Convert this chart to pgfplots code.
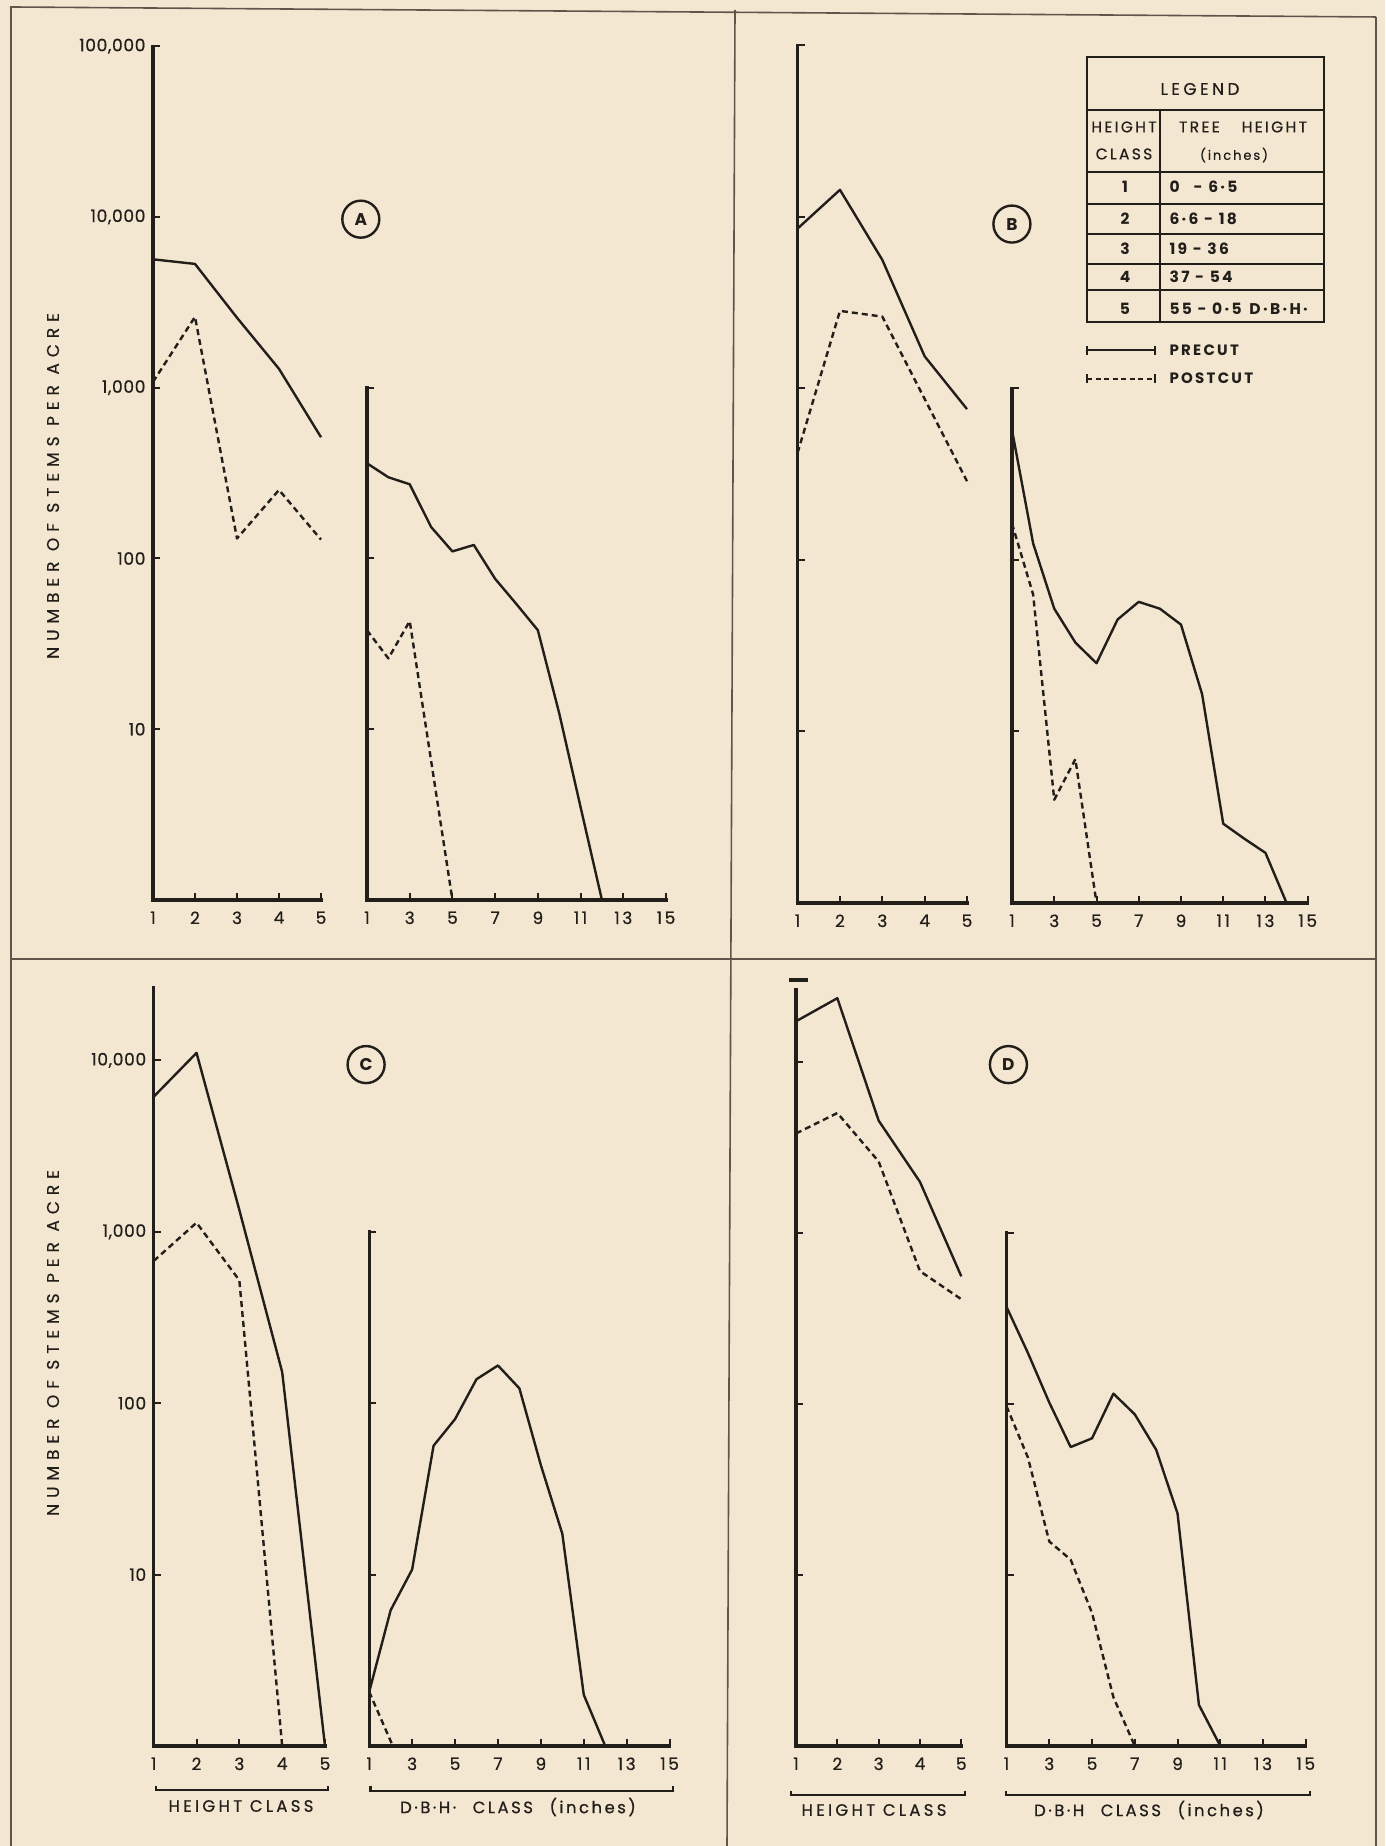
\documentclass[border=0pt]{standalone}
\usepackage{pgfplots}
\pgfplotsset{compat=1.18}
\usepackage{fontspec}
\setmainfont{Poppins}[LetterSpace=15]
\definecolor{paper}{RGB}{244,231,209}
\definecolor{ink}{RGB}{34,30,26}
\definecolor{framec}{RGB}{95,85,75}
\newcommand{\fs}[1]{\fontsize{#1}{#1}\selectfont}
\newcommand{\fb}{\addfontfeatures{FakeBold=0.6}}

\pgfplotsset{
 stemaxis/.style={scale only axis, anchor=south west,
   axis x line=bottom, axis y line=left,
   axis line style={-, line width=3.2pt, ink, line cap=rect},
   ymin=1, xmin=1,
   tick align=inside, major tick length=7pt,
   major tick style={line width=2pt, ink},
   yminorticks=false, xminorticks=false,
   clip=false,
   x tick label style={font=\fs{17}\fb, text=ink, yshift=-8pt},
   y tick label style={font=\fs{17}\addfontfeatures{LetterSpace=4,FakeBold=0.6}, text=ink, xshift=-4pt},
 },
 hcls/.style={xmax=5, xtick={1,2,3,4,5}, xticklabels={1,2,3,4,5}},
 dcls/.style={xmax=15, ymax=1000, xtick={1,3,5,7,9,11,13,15},
   xticklabels={1,3,5,7,9,11,13,15}, ytick={10,100,1000}, yticklabels={}},
 precut/.style={solid, line width=2.4pt, ink, line join=round, mark=none},
 postcut/.style={dash pattern=on 6pt off 4pt, line width=2.4pt, ink, line join=round, mark=none},
}

\begin{document}
\begin{tikzpicture}[x=1pt,y=1pt]
\fill[paper] (0,0) rectangle (1385,1846);
\useasboundingbox (0,0) rectangle (1385,1846);

% frame
\draw[line width=1.6pt, framec] (10,1839) -- (1376,1829);
\draw[line width=1.6pt, framec] (11,1839) -- (11,0);
\draw[line width=1.6pt, framec] (1376,1829) -- (1376,0);
\draw[line width=1.6pt, framec] (735,1836) -- (727,0);
\draw[line width=1.6pt, framec] (11,887) -- (1376,887);

% ---------------- Panel A ----------------
\begin{axis}[ymode=log, stemaxis, hcls, at={(153pt,946pt)}, width=168pt, height=853.75pt,
  ymax=100000, ytick={10,100,1000,10000,100000},
  yticklabels={10,100,{1,000},{10,000},{100,000}}]
\addplot[precut] coordinates {(1,5650)(2,5310)(3,2570)(4,1290)(5,513)};
\addplot[postcut] coordinates {(1,1081)(2,2600)(3,131)(4,252)(5,129)};
\end{axis}
\begin{axis}[ymode=log, stemaxis, dcls, at={(367pt,946pt)}, width=299pt, height=512.25pt]
\addplot[precut] coordinates {(1,361)(2,299)(3,272)(4,153)(5,110)(6,120)(7,76)(8,54)(9,38)(10,12.4)(11,3.5)(12,1)};
\addplot[postcut] coordinates {(1,38)(2,26)(3,43)(5,1)};
\end{axis}

% ---------------- Panel B ----------------
\begin{axis}[ymode=log, stemaxis, hcls, at={(797.6pt,943pt)}, width=169.4pt, height=857.5pt,
  ymax=100000, ytick={10,100,1000,10000,100000}, yticklabels={}]
\addplot[precut] coordinates {(1,8560)(2,14400)(3,5620)(4,1540)(5,758)};
\addplot[postcut] coordinates {(1,422)(2,2834)(3,2625)(4,869)(5,288)};
\end{axis}
\begin{axis}[ymode=log, stemaxis, dcls, at={(1012pt,943pt)}, width=295.7pt, height=514.5pt]
\addplot[precut] coordinates {(1,572)(2,125)(3,52)(4,33)(5,25)(6,45)(7,57)(8,52)(9,42)(10,16.5)(11,2.9)(12,2.37)(13,1.96)(14,1)};
\addplot[postcut] coordinates {(1,163)(2,63)(3,4.0)(4,6.9)(5,1)};
\end{axis}

% ---------------- Panel C ----------------
\begin{axis}[ymode=log, stemaxis, hcls, at={(153.7pt,100pt)}, width=171.3pt, height=758pt,
  ymax=26450, ytick={10,100,1000,10000},
  yticklabels={10,100,{1,000},{10,000}}]
\addplot[precut] coordinates {(1,6140)(2,11060)(3,1340)(4,152)(5,1)};
\addplot[postcut] coordinates {(1,676)(2,1130)(3,521)(4,1)};
\end{axis}
\begin{axis}[ymode=log, stemaxis, dcls, at={(369.2pt,100pt)}, width=300.4pt, height=514.2pt]
\addplot[precut] coordinates {(1,2.07)(2,6.2)(3,10.7)(4,56.5)(5,80.7)(6,138)(7,166)(8,122)(9,43.5)(10,17.3)(11,1.99)(12,1)};
\addplot[postcut] coordinates {(1,2.07)(2.1,1)};
\end{axis}

% ---------------- Panel D ----------------
\begin{axis}[ymode=log, stemaxis, hcls, at={(796pt,100pt)}, width=165.3pt, height=756.4pt,
  ymax=26510, ytick={10,100,1000,10000}, yticklabels={}]
\addplot[precut] coordinates {(1,17300)(2,23600)(3,4540)(4,1990)(5,558)};
\addplot[postcut] coordinates {(1,3820)(2,5030)(3,2620)(4,598)(5,410)};
\end{axis}
\begin{axis}[ymode=log, stemaxis, dcls, at={(1006.5pt,100pt)}, width=299.3pt, height=513pt]
\addplot[precut] coordinates {(1,370)(2,199)(3,102)(4,56)(5,63)(6,115)(7,87)(8,54)(9,22.9)(10,1.74)(11,1)};
\addplot[postcut] coordinates {(1,97)(2,48.7)(3,15.7)(4,12.3)(5,6.0)(6,1.93)(7,1)};
\end{axis}
\draw[line width=4pt, ink] (789,866) -- (808,866);

% y labels
\node[rotate=90, font=\fs{17}\addfontfeatures{LetterSpace=35,FakeBold=0.5}, text=ink] at (53,1360) {NUMBER OF STEMS PER ACRE};
\node[rotate=90, font=\fs{17}\addfontfeatures{LetterSpace=35,FakeBold=0.5}, text=ink] at (53,503) {NUMBER OF STEMS PER ACRE};

% circled panel letters
\node[circle, draw=ink, line width=2.4pt, minimum size=37pt, inner sep=0pt, font=\fs{17}\bfseries\addfontfeatures{LetterSpace=0}, text=ink] at (360.8,1626.8) {A};
\node[circle, draw=ink, line width=2.4pt, minimum size=37pt, inner sep=0pt, font=\fs{17}\bfseries\addfontfeatures{LetterSpace=0}, text=ink] at (1011.9,1621.9) {B};
\node[circle, draw=ink, line width=2.4pt, minimum size=37pt, inner sep=0pt, font=\fs{17}\bfseries\addfontfeatures{LetterSpace=0}, text=ink] at (366.1,781.4) {C};
\node[circle, draw=ink, line width=2.4pt, minimum size=37pt, inner sep=0pt, font=\fs{17}\bfseries\addfontfeatures{LetterSpace=0}, text=ink] at (1008.4,781.4) {D};

% legend table
\draw[line width=2.4pt, ink] (1087,1789) rectangle (1324,1524);
\draw[line width=2.4pt, ink] (1087,1736) -- (1324,1736) (1087,1674) -- (1324,1674)
  (1087,1642) -- (1324,1642) (1087,1612) -- (1324,1612) (1087,1582) -- (1324,1582)
  (1087,1556) -- (1324,1556) (1160,1736) -- (1160,1524);
\node[font=\fs{17}\addfontfeatures{LetterSpace=20,FakeBold=0.5}, text=ink] at (1200,1757) {LEGEND};
\node[font=\fs{15.5}\fb, text=ink] at (1124,1719) {HEIGHT};
\node[font=\fs{15.5}\fb, text=ink] at (1124,1692) {CLASS};
\node[font=\fs{15.5}\fb, text=ink] at (1243,1719) {TREE\hspace{22pt}HEIGHT};
\node[font=\fs{13}\fb, text=ink] at (1234,1691) {(inches)};
\node[font=\fs{15.5}\bfseries, text=ink] at (1125,1659) {1};
\node[font=\fs{15.5}\bfseries, text=ink] at (1125,1627.3) {2};
\node[font=\fs{15.5}\bfseries, text=ink] at (1125,1597.3) {3};
\node[font=\fs{15.5}\bfseries, text=ink] at (1125,1569) {4};
\node[font=\fs{15.5}\bfseries, text=ink] at (1125,1537.3) {5};
\node[font=\fs{15.5}\bfseries, text=ink, anchor=west] at (1166,1659) {0\hspace{14pt}- 6·5};
\node[font=\fs{15.5}\bfseries, text=ink, anchor=west] at (1166,1627.3) {6·6 - 18};
\node[font=\fs{15.5}\bfseries, text=ink, anchor=west] at (1166,1597.3) {19 - 36};
\node[font=\fs{15.5}\bfseries, text=ink, anchor=west] at (1166,1569) {37 - 54};
\node[font=\fs{15.5}\bfseries, text=ink, anchor=west] at (1166,1537.3) {55 - 0·5\enspace D·B·H·};
\node[font=\fs{15}\bfseries, text=ink, anchor=west] at (1166,1495.7) {PRECUT};
\node[font=\fs{15}\bfseries, text=ink, anchor=west] at (1166,1467.3) {POSTCUT};
\draw[line width=2.2pt, ink] (1087,1495.7) -- (1155,1495.7);
\draw[line width=2.2pt, ink] (1087,1491) -- (1087,1500) (1155,1491) -- (1155,1500);
\draw[line width=2.2pt, ink, dash pattern=on 5pt off 3.5pt] (1087,1467.3) -- (1155,1467.3);
\draw[line width=2.2pt, ink] (1087,1463) -- (1087,1472) (1155,1463) -- (1155,1472);

% bottom axis titles
\draw[line width=2.2pt, ink] (156,60) -- (156,56) -- (328,56) -- (328,60);
\draw[line width=2.2pt, ink] (370.5,60) -- (370.5,55) -- (673,55) -- (673,60);
\draw[line width=2.2pt, ink] (791,55) -- (791,51) -- (965,51) -- (965,55);
\draw[line width=2.2pt, ink] (1006,55) -- (1006,51) -- (1310,51) -- (1310,55);
\node[font=\fs{16.5}\addfontfeatures{LetterSpace=20,FakeBold=0.6}, text=ink] at (241,40) {HEIGHT CLASS};
\node[font=\fs{16.5}\fb, text=ink] at (518,39) {D·B·H·\quad CLASS\quad (inches)};
\node[font=\fs{16.5}\addfontfeatures{LetterSpace=20,FakeBold=0.6}, text=ink] at (874,36) {HEIGHT CLASS};
\node[font=\fs{16.5}\fb, text=ink] at (1149,36) {D·B·H\quad CLASS\quad (inches)};
\end{tikzpicture}
\end{document}
